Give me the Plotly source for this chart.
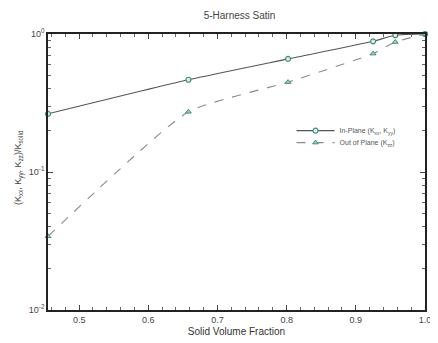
import plotly.graph_objects as go

# Data
vf_in = [0.455, 0.658, 0.802, 0.925, 0.957, 1.0]
k_in = [0.264, 0.466, 0.66, 0.885, 0.98, 1.0]
vf_out = [0.455, 0.658, 0.802, 0.925, 0.957, 1.0]
k_out = [0.0342, 0.273, 0.448, 0.721, 0.875, 1.0]

x_ticks = [0.5, 0.6, 0.7, 0.8, 0.9, 1.0]
x_ticktext = ["0.5", "0.6", "0.7", "0.8", "0.9", "1.0"]
y_ticks = [0.01, 0.1, 1]
y_ticktext = ["10<sup>-2</sup>", "10<sup>-1</sup>", "10<sup>0</sup>"]

FONT = "Liberation Sans, Arial, sans-serif"
TEAL = "#3f8f78"

# page body adds an 8px offset; figure is sized to fill the remaining window
W, H = 430, 335
L, R, T, B = 40, 7, 26, 32
PW, PH = W - L - R, H - T - B

fig = go.Figure()
fig.add_trace(go.Scatter(
    x=vf_in, y=k_in, mode="lines+markers", cliponaxis=False,
    name="In-Plane (K<sub>xx</sub>, K<sub>yy</sub>)", legend="legend",
    line=dict(color="#555555", width=1.1, shape="spline", smoothing=0.6),
    marker=dict(symbol="circle", size=5, color="#dfeee8", line=dict(color=TEAL, width=1.2)),
))
fig.add_trace(go.Scatter(
    x=vf_out, y=k_out, mode="lines+markers", cliponaxis=False,
    name="Out of Plane (K<sub>zz</sub>)", legend="legend2",
    line=dict(color="#8a8a8a", width=1.1, dash="dash", shape="spline", smoothing=0.5),
    marker=dict(symbol="triangle-up", size=5, color="#a8d0c2", line=dict(color=TEAL, width=1)),
))

leg_common = dict(xanchor="left", yanchor="middle", bgcolor="rgba(0,0,0,0)",
                  font=dict(size=7, color="#555555", family=FONT), itemwidth=38)

fig.update_layout(
    width=W, height=H,
    margin=dict(l=L, r=R, t=T, b=B),
    paper_bgcolor="white", plot_bgcolor="white",
    font=dict(family=FONT, size=9, color="#333333"),
    title=dict(text="5-Harness Satin", x=(L + PW / 2) / W, xanchor="center",
               y=1 - 7 / H, yanchor="middle",
               font=dict(size=10, color="#444444", family=FONT)),
    showlegend=True,
    legend=dict(x=0.646, y=1 - (131 - 34) / PH, **leg_common),
    legend2=dict(x=0.646, y=1 - (143 - 34) / PH, **leg_common),
    xaxis=dict(range=[0.455, 1.0], tickvals=x_ticks, ticktext=x_ticktext,
               ticks="inside", ticklen=5, tickwidth=1, tickcolor="#444",
               minor=dict(dtick=0.02, ticks="inside", ticklen=3, tickcolor="#666"),
               showline=True, linecolor="#222", linewidth=1.5, mirror="ticks",
               showgrid=False, zeroline=False,
               title=dict(text="Solid Volume Fraction", font=dict(size=10, color="#333"), standoff=4),
               tickfont=dict(size=9, color="#444")),
    yaxis=dict(type="log", range=[-2, 0], tickvals=y_ticks, ticktext=y_ticktext,
               ticks="inside", ticklen=5, tickwidth=1, tickcolor="#444",
               minor=dict(dtick="D1", ticks="inside", ticklen=3, tickcolor="#666", showgrid=False),
               showline=True, linecolor="#222", linewidth=1.5, mirror="ticks",
               showgrid=False, zeroline=False,
               tickfont=dict(size=9, color="#444")),
    annotations=[dict(
        text="(K<sub>xx</sub>, K<sub>yy</sub>, K<sub>zz</sub>)/K<sub>solid</sub>",
        xref="paper", yref="paper", x=-30 / PW, y=1 - (168 - 34) / PH,
        textangle=-90, showarrow=False, xanchor="center", yanchor="middle",
        font=dict(size=9, color="#444", family=FONT))],
)
fig.write_html("out.html")
